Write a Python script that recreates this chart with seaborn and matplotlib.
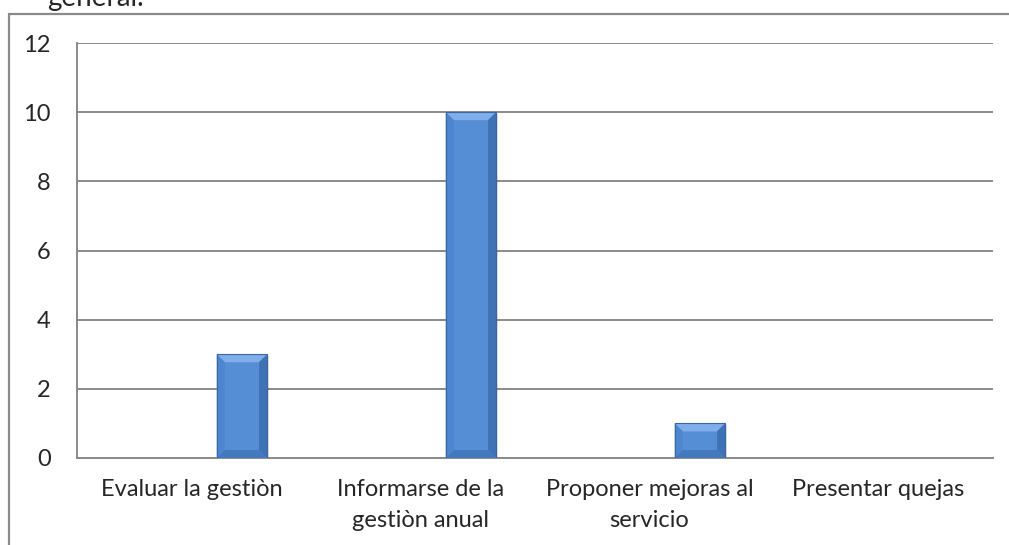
import numpy as np
import pandas as pd
import matplotlib
matplotlib.use('Agg')
import matplotlib.pyplot as plt
from matplotlib.patches import Polygon, Rectangle
import seaborn as sns

categories = ['Evaluar la gestiòn', 'Informarse de la\ngestiòn anual',
              'Proponer mejoras al\nservicio', 'Presentar quejas']
values = [3, 10, 1, 0]
series = ['s1', 's2', 's3']
yticks = [0, 2, 4, 6, 8, 10, 12]

# Excel layout: three series slots per category, only the last one has data
rows = []
for cat, val in zip(categories, values):
    for s in series:
        rows.append({'cat': cat, 'serie': s, 'val': val if s == 's3' else 0})
df = pd.DataFrame(rows)

sns.set_style('white')
plt.rcParams['font.family'] = ['Lato', 'DejaVu Sans']

fig = plt.figure(figsize=(10.09, 5.45), dpi=100)
ax = fig.add_axes([77/1009, 1-458/545, (993-77)/1009, (458-43)/545])

sns.barplot(data=df, x='cat', y='val', hue='serie', hue_order=series,
            palette=['#558ED5'] * 3, saturation=1, width=0.66, dodge=True,
            linewidth=0, legend=False, ax=ax, zorder=3)

ax.set_xlim(-0.5, 3.5)
ax.set_ylim(0, 12)
ax.set_yticks(yticks)
ax.set_yticklabels([str(t) for t in yticks], fontsize=17)
ax.grid(axis='y', color='#8a8a8a', linewidth=1.4, zorder=0)
ax.set_axisbelow(True)
ax.set_xlabel('')
ax.set_ylabel('')
for side in ['top', 'right']:
    ax.spines[side].set_visible(False)
for side in ['left', 'bottom']:
    ax.spines[side].set_color('#8a8a8a')
    ax.spines[side].set_linewidth(1.4)
ax.tick_params(axis='y', length=7, width=1.4, color='#8a8a8a', pad=12)
ax.tick_params(axis='x', which='major', length=0, pad=15, labelsize=17)
ax.set_xticks(np.arange(-0.5, 4, 1), minor=True)
ax.tick_params(axis='x', which='minor', length=7, width=1.4, color='#8a8a8a')
for lab in ax.get_xticklabels():
    lab.set_linespacing(1.6)
    lab.set_va('top')

# bevel look for the bars
px_x = 4 / 916
px_y = 12 / 415
b = 8
for p in ax.patches:
    h = p.get_height()
    if h <= 0:
        continue
    x0, y0 = p.get_x(), p.get_y()
    w = p.get_width()
    x1, y1 = x0 + w, y0 + h
    bx, by = b * px_x, min(b * px_y, h / 2)
    # soft shadow
    ax.add_patch(Rectangle((x0 + 2 * px_x, y0 - 2 * px_y), w, h, color='#000000',
                           alpha=0.12, zorder=2.5, lw=0))
    ax.add_patch(Polygon([(x0, y1), (x1, y1), (x1 - bx, y1 - by), (x0 + bx, y1 - by)],
                         closed=True, color='#7FAEEA', lw=0, zorder=4))
    ax.add_patch(Polygon([(x0, y0), (x1, y0), (x1 - bx, y0 + by), (x0 + bx, y0 + by)],
                         closed=True, color='#4479C0', lw=0, zorder=4))
    ax.add_patch(Polygon([(x0, y0), (x0, y1), (x0 + bx, y1 - by), (x0 + bx, y0 + by)],
                         closed=True, color='#4D85CE', lw=0, zorder=4))
    ax.add_patch(Polygon([(x1, y0), (x1, y1), (x1 - bx, y1 - by), (x1 - bx, y0 + by)],
                         closed=True, color='#3F71B5', lw=0, zorder=4))
    ax.add_patch(Rectangle((x0, y0), w, h, fill=False, edgecolor='#3C65A3',
                           lw=0.8, zorder=5))

# outer chart frame and cut-off caption
fig.add_artist(Rectangle((9/1009, -0.02), 1.05, 1 - 14/545 + 0.02,
                         transform=fig.transFigure, fill=False,
                         edgecolor='#8a8a8a', lw=1.6))
fig.text(47/1009, 1 - 6/545, 'general.', fontsize=20, va='baseline', ha='left')

fig.savefig('out.png', dpi=100)
